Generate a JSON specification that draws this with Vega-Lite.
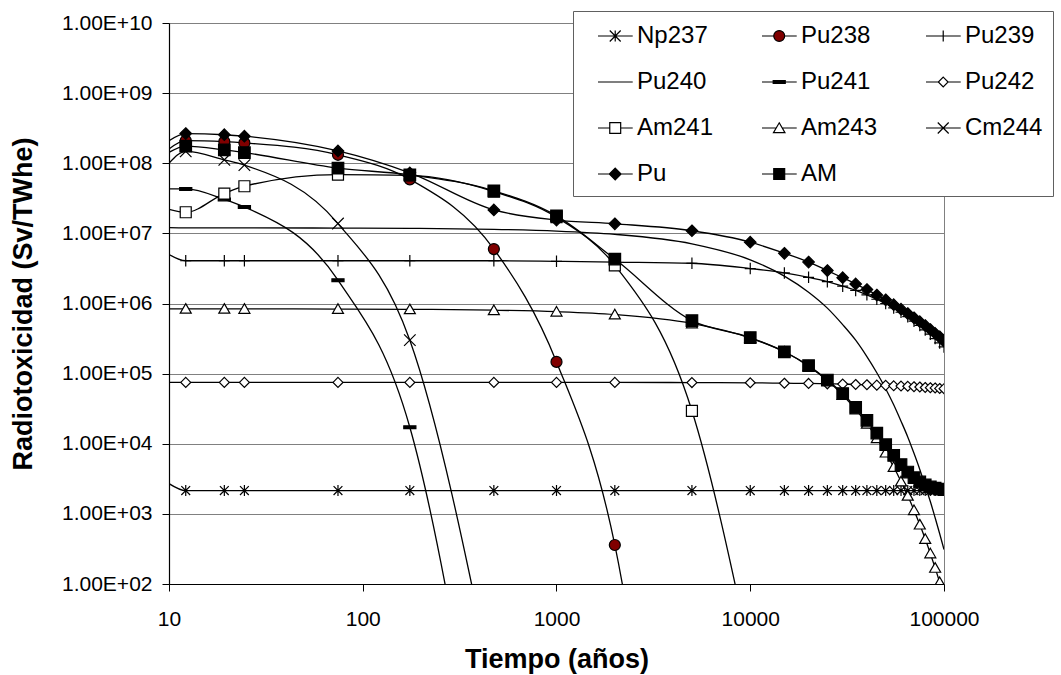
{
  "$schema": "https://vega.github.io/schema/vega-lite/v6.json",
  "width": 775,
  "height": 561,
  "autosize": {"type": "none"},
  "padding": {"left": 169, "top": 23, "right": 117, "bottom": 91},
  "background": "white",
  "config": {"view": {"stroke": "#808080", "strokeWidth": 1}, "font": "Liberation Sans"},
  "data": {"values": [
    {"serie":"Np237","t":10,"v":2700},{"serie":"Np237","t":12.2,"v":2150},{"serie":"Np237","t":19.3,"v":2150},{"serie":"Np237","t":24.5,"v":2150},{"serie":"Np237","t":74.5,"v":2150},{"serie":"Np237","t":175,"v":2150},{"serie":"Np237","t":475,"v":2150},{"serie":"Np237","t":1000,"v":2150},{"serie":"Np237","t":2000,"v":2150},{"serie":"Np237","t":5000,"v":2150},{"serie":"Np237","t":10000,"v":2150},{"serie":"Np237","t":15000,"v":2150},{"serie":"Np237","t":20000,"v":2150},{"serie":"Np237","t":25000,"v":2150},{"serie":"Np237","t":30000,"v":2150},{"serie":"Np237","t":35000,"v":2150},{"serie":"Np237","t":40000,"v":2150},{"serie":"Np237","t":45000,"v":2150},{"serie":"Np237","t":50000,"v":2150},{"serie":"Np237","t":55000,"v":2150},{"serie":"Np237","t":60000,"v":2150},{"serie":"Np237","t":65000,"v":2150},{"serie":"Np237","t":70000,"v":2150},{"serie":"Np237","t":75000,"v":2150},{"serie":"Np237","t":80000,"v":2150},{"serie":"Np237","t":85000,"v":2150},{"serie":"Np237","t":90000,"v":2150},{"serie":"Np237","t":95000,"v":2150},{"serie":"Np237","t":100000,"v":2150},

    {"serie":"Pu238","t":10,"v":1.6e8},{"serie":"Pu238","t":12.2,"v":2.1e8},{"serie":"Pu238","t":19.3,"v":2.03e8},{"serie":"Pu238","t":24.5,"v":1.95e8},{"serie":"Pu238","t":74.5,"v":1.32e8},{"serie":"Pu238","t":175,"v":5.9e7},{"serie":"Pu238","t":475,"v":5.97e6},{"serie":"Pu238","t":1000,"v":1.47e5},{"serie":"Pu238","t":2000,"v":360},{"serie":"Pu238","t":5000,"v":5e-6},

    {"serie":"Pu239","t":10,"v":5.0e6},{"serie":"Pu239","t":12.2,"v":4.07e6},{"serie":"Pu239","t":19.3,"v":4.07e6},{"serie":"Pu239","t":24.5,"v":4.07e6},{"serie":"Pu239","t":74.5,"v":4.07e6},{"serie":"Pu239","t":175,"v":4.07e6},{"serie":"Pu239","t":475,"v":4.07e6},{"serie":"Pu239","t":1000,"v":4.0e6},{"serie":"Pu239","t":2000,"v":3.9e6},{"serie":"Pu239","t":5000,"v":3.75e6},{"serie":"Pu239","t":10000,"v":3.15e6},{"serie":"Pu239","t":15000,"v":2.73e6},{"serie":"Pu239","t":20000,"v":2.36e6},{"serie":"Pu239","t":25000,"v":2.05e6},{"serie":"Pu239","t":30000,"v":1.77e6},{"serie":"Pu239","t":35000,"v":1.54e6},{"serie":"Pu239","t":40000,"v":1.33e6},{"serie":"Pu239","t":45000,"v":1.15e6},{"serie":"Pu239","t":50000,"v":1.0e6},{"serie":"Pu239","t":55000,"v":8.65e5},{"serie":"Pu239","t":60000,"v":7.5e5},{"serie":"Pu239","t":65000,"v":6.5e5},{"serie":"Pu239","t":70000,"v":5.6e5},{"serie":"Pu239","t":75000,"v":4.87e5},{"serie":"Pu239","t":80000,"v":4.2e5},{"serie":"Pu239","t":85000,"v":3.65e5},{"serie":"Pu239","t":90000,"v":3.16e5},{"serie":"Pu239","t":95000,"v":2.74e5},{"serie":"Pu239","t":100000,"v":2.4e5},

    {"serie":"Pu240","t":10,"v":1.21e7},{"serie":"Pu240","t":12.2,"v":1.2e7},{"serie":"Pu240","t":19.3,"v":1.2e7},{"serie":"Pu240","t":24.5,"v":1.2e7},{"serie":"Pu240","t":74.5,"v":1.19e7},{"serie":"Pu240","t":175,"v":1.18e7},{"serie":"Pu240","t":475,"v":1.14e7},{"serie":"Pu240","t":1000,"v":1.08e7},{"serie":"Pu240","t":2000,"v":9.7e6},{"serie":"Pu240","t":5000,"v":7.1e6},{"serie":"Pu240","t":10000,"v":4.2e6},{"serie":"Pu240","t":15000,"v":2.46e6},{"serie":"Pu240","t":20000,"v":1.45e6},{"serie":"Pu240","t":25000,"v":8.6e5},{"serie":"Pu240","t":30000,"v":5.0e5},{"serie":"Pu240","t":35000,"v":3.0e5},{"serie":"Pu240","t":40000,"v":1.75e5},{"serie":"Pu240","t":45000,"v":1.03e5},{"serie":"Pu240","t":50000,"v":6.1e4},{"serie":"Pu240","t":55000,"v":3.6e4},{"serie":"Pu240","t":60000,"v":2.1e4},{"serie":"Pu240","t":65000,"v":1.25e4},{"serie":"Pu240","t":70000,"v":7300},{"serie":"Pu240","t":75000,"v":4300},{"serie":"Pu240","t":80000,"v":2500},{"serie":"Pu240","t":85000,"v":1500},{"serie":"Pu240","t":90000,"v":880},{"serie":"Pu240","t":95000,"v":520},{"serie":"Pu240","t":100000,"v":310},

    {"serie":"Pu241","t":10,"v":4.3e7},{"serie":"Pu241","t":12.2,"v":4.3e7},{"serie":"Pu241","t":19.3,"v":3.05e7},{"serie":"Pu241","t":24.5,"v":2.38e7},{"serie":"Pu241","t":74.5,"v":2.15e6},{"serie":"Pu241","t":175,"v":1.72e4},{"serie":"Pu241","t":475,"v":0.009},

    {"serie":"Pu242","t":10,"v":7.5e4},{"serie":"Pu242","t":12.2,"v":7.5e4},{"serie":"Pu242","t":19.3,"v":7.5e4},{"serie":"Pu242","t":24.5,"v":7.5e4},{"serie":"Pu242","t":74.5,"v":7.5e4},{"serie":"Pu242","t":175,"v":7.5e4},{"serie":"Pu242","t":475,"v":7.5e4},{"serie":"Pu242","t":1000,"v":7.5e4},{"serie":"Pu242","t":2000,"v":7.5e4},{"serie":"Pu242","t":5000,"v":7.45e4},{"serie":"Pu242","t":10000,"v":7.4e4},{"serie":"Pu242","t":15000,"v":7.3e4},{"serie":"Pu242","t":20000,"v":7.25e4},{"serie":"Pu242","t":25000,"v":7.15e4},{"serie":"Pu242","t":30000,"v":7.1e4},{"serie":"Pu242","t":35000,"v":7.0e4},{"serie":"Pu242","t":40000,"v":6.95e4},{"serie":"Pu242","t":45000,"v":6.85e4},{"serie":"Pu242","t":50000,"v":6.8e4},{"serie":"Pu242","t":55000,"v":6.7e4},{"serie":"Pu242","t":60000,"v":6.65e4},{"serie":"Pu242","t":65000,"v":6.6e4},{"serie":"Pu242","t":70000,"v":6.5e4},{"serie":"Pu242","t":75000,"v":6.45e4},{"serie":"Pu242","t":80000,"v":6.35e4},{"serie":"Pu242","t":85000,"v":6.3e4},{"serie":"Pu242","t":90000,"v":6.25e4},{"serie":"Pu242","t":95000,"v":6.15e4},{"serie":"Pu242","t":100000,"v":6.1e4},

    {"serie":"Am241","t":10,"v":2.2e7},{"serie":"Am241","t":12.2,"v":2.0e7},{"serie":"Am241","t":19.3,"v":3.7e7},{"serie":"Am241","t":24.5,"v":4.7e7},{"serie":"Am241","t":74.5,"v":6.9e7},{"serie":"Am241","t":175,"v":6.7e7},{"serie":"Am241","t":475,"v":3.95e7},{"serie":"Am241","t":1000,"v":1.7e7},{"serie":"Am241","t":2000,"v":3.5e6},{"serie":"Am241","t":5000,"v":2.95e4},{"serie":"Am241","t":10000,"v":10},

    {"serie":"Am243","t":10,"v":8.4e5},{"serie":"Am243","t":12.2,"v":8.4e5},{"serie":"Am243","t":19.3,"v":8.4e5},{"serie":"Am243","t":24.5,"v":8.38e5},{"serie":"Am243","t":74.5,"v":8.34e5},{"serie":"Am243","t":175,"v":8.26e5},{"serie":"Am243","t":475,"v":8.03e5},{"serie":"Am243","t":1000,"v":7.65e5},{"serie":"Am243","t":2000,"v":6.96e5},{"serie":"Am243","t":5000,"v":5.2e5},{"serie":"Am243","t":10000,"v":3.22e5},{"serie":"Am243","t":15000,"v":2.05e5},{"serie":"Am243","t":20000,"v":1.28e5},{"serie":"Am243","t":25000,"v":7.96e4},{"serie":"Am243","t":30000,"v":4.96e4},{"serie":"Am243","t":35000,"v":3.09e4},{"serie":"Am243","t":40000,"v":1.93e4},{"serie":"Am243","t":45000,"v":1.2e4},{"serie":"Am243","t":50000,"v":7480},{"serie":"Am243","t":55000,"v":4660},{"serie":"Am243","t":60000,"v":2900},{"serie":"Am243","t":65000,"v":1810},{"serie":"Am243","t":70000,"v":1130},{"serie":"Am243","t":75000,"v":703},{"serie":"Am243","t":80000,"v":438},{"serie":"Am243","t":85000,"v":273},{"serie":"Am243","t":90000,"v":170},{"serie":"Am243","t":95000,"v":106},{"serie":"Am243","t":100000,"v":66},

    {"serie":"Cm244","t":10,"v":1.0e8},{"serie":"Cm244","t":12.2,"v":1.48e8},{"serie":"Cm244","t":19.3,"v":1.12e8},{"serie":"Cm244","t":24.5,"v":9.4e7},{"serie":"Cm244","t":74.5,"v":1.38e7},{"serie":"Cm244","t":175,"v":3.0e5},{"serie":"Cm244","t":475,"v":3},

    {"serie":"Pu","t":10,"v":2.1e8},{"serie":"Pu","t":12.2,"v":2.65e8},{"serie":"Pu","t":19.3,"v":2.55e8},{"serie":"Pu","t":24.5,"v":2.43e8},{"serie":"Pu","t":74.5,"v":1.5e8},{"serie":"Pu","t":175,"v":7.3e7},{"serie":"Pu","t":475,"v":2.16e7},{"serie":"Pu","t":1000,"v":1.55e7},{"serie":"Pu","t":2000,"v":1.37e7},{"serie":"Pu","t":5000,"v":1.09e7},{"serie":"Pu","t":10000,"v":7.5e6},{"serie":"Pu","t":15000,"v":5.2e6},{"serie":"Pu","t":20000,"v":3.9e6},{"serie":"Pu","t":25000,"v":2.95e6},{"serie":"Pu","t":30000,"v":2.33e6},{"serie":"Pu","t":35000,"v":1.9e6},{"serie":"Pu","t":40000,"v":1.58e6},{"serie":"Pu","t":45000,"v":1.32e6},{"serie":"Pu","t":50000,"v":1.13e6},{"serie":"Pu","t":55000,"v":9.6e5},{"serie":"Pu","t":60000,"v":8.3e5},{"serie":"Pu","t":65000,"v":7.2e5},{"serie":"Pu","t":70000,"v":6.25e5},{"serie":"Pu","t":75000,"v":5.5e5},{"serie":"Pu","t":80000,"v":4.85e5},{"serie":"Pu","t":85000,"v":4.25e5},{"serie":"Pu","t":90000,"v":3.75e5},{"serie":"Pu","t":95000,"v":3.35e5},{"serie":"Pu","t":100000,"v":3.0e5},

    {"serie":"AM","t":10,"v":1.43e8},{"serie":"AM","t":12.2,"v":1.75e8},{"serie":"AM","t":19.3,"v":1.55e8},{"serie":"AM","t":24.5,"v":1.42e8},{"serie":"AM","t":74.5,"v":8.5e7},{"serie":"AM","t":175,"v":6.85e7},{"serie":"AM","t":475,"v":4.05e7},{"serie":"AM","t":1000,"v":1.78e7},{"serie":"AM","t":2000,"v":4.3e6},{"serie":"AM","t":5000,"v":5.7e5},{"serie":"AM","t":10000,"v":3.27e5},{"serie":"AM","t":15000,"v":2.05e5},{"serie":"AM","t":20000,"v":1.3e5},{"serie":"AM","t":25000,"v":8.1e4},{"serie":"AM","t":30000,"v":5.2e4},{"serie":"AM","t":35000,"v":3.3e4},{"serie":"AM","t":40000,"v":2.15e4},{"serie":"AM","t":45000,"v":1.42e4},{"serie":"AM","t":50000,"v":9700},{"serie":"AM","t":55000,"v":6800},{"serie":"AM","t":60000,"v":5050},{"serie":"AM","t":65000,"v":3950},{"serie":"AM","t":70000,"v":3280},{"serie":"AM","t":75000,"v":2850},{"serie":"AM","t":80000,"v":2590},{"serie":"AM","t":85000,"v":2420},{"serie":"AM","t":90000,"v":2320},{"serie":"AM","t":95000,"v":2260},{"serie":"AM","t":100000,"v":2220}
  ]},
  "encoding": {
    "x": {
      "field": "t", "type": "quantitative",
      "scale": {"type": "log", "domain": [10, 100000], "nice": false},
      "axis": {
        "values": [10, 100, 1000, 10000, 100000], "format": "d",
        "grid": false, "labelFontSize": 21, "labelColor": "black", "labelPadding": 17,
        "labelFlush": false, "labelOverlap": false,
        "tickSize": 7, "tickColor": "black", "domainColor": "black", "domainWidth": 1.2,
        "title": "Tiempo (años)", "titleFontSize": 27, "titleFontWeight": "bold", "titleColor": "black",
        "titleBaseline": "alphabetic", "titleY": 83
      }
    },
    "y": {
      "field": "v", "type": "quantitative",
      "scale": {"type": "log", "domain": [100, 10000000000], "nice": false},
      "axis": {
        "values": [100, 1000, 10000, 100000, 1000000, 10000000, 100000000, 1000000000, 10000000000],
        "labelExpr": "'1.00E+' + (round(log(datum.value)/LN10) < 10 ? '0' : '') + round(log(datum.value)/LN10)",
        "grid": true, "gridColor": "#808080", "gridWidth": 1,
        "labelFontSize": 21, "labelColor": "black", "labelPadding": 10, "labelFlush": false, "labelOverlap": false,
        "tickSize": 7, "tickColor": "black", "domainColor": "black", "domainWidth": 1.2,
        "title": "Radiotoxicidad (Sv/TWhe)", "titleFontSize": 27, "titleFontWeight": "bold", "titleColor": "black",
        "titleBaseline": "alphabetic", "titleX": -138, "titleY": 280.5
      }
    }
  },
  "layer": [
    {
      "mark": {"type": "line", "interpolate": "monotone", "clip": true, "color": "black", "strokeWidth": 1.3},
      "encoding": {"detail": {"field": "serie", "type": "nominal"}}
    },
    {
      "transform": [{"filter": "datum.t > 11 && datum.serie !== 'Pu240'"}],
      "mark": {"type": "point", "clip": true, "size": 121, "opacity": 1, "stroke": "black", "strokeWidth": 1.2},
      "encoding": {
        "shape": {
          "field": "serie", "type": "nominal",
          "scale": {
            "domain": ["Np237", "Pu238", "Pu239", "Pu240", "Pu241", "Pu242", "Am241", "Am243", "Cm244", "Pu", "AM"],
            "range": [
              "M0,-1V1M-0.8,-0.8L0.8,0.8M-0.8,0.8L0.8,-0.8",
              "circle",
              "M-1,0H1M0,-1.05V1.05",
              "M-1,0H1",
              "M-1.1,-0.25H1.1V0.25H-1.1Z",
              "M0,-0.9L0.9,0L0,0.9L-0.9,0Z",
              "M-1,-1H1V1H-1Z",
              "M0,-0.95L1,0.8H-1Z",
              "M-1.05,-1.05L1.05,1.05M-1.05,1.05L1.05,-1.05",
              "M0,-1.05L1.05,0L0,1.05L-1.05,0Z",
              "M-1.05,-1.05H1.05V1.05H-1.05Z"
            ]
          },
          "legend": null
        },
        "fill": {
          "field": "serie", "type": "nominal",
          "scale": {
            "domain": ["Np237", "Pu238", "Pu239", "Pu240", "Pu241", "Pu242", "Am241", "Am243", "Cm244", "Pu", "AM"],
            "range": ["transparent", "#800000", "transparent", "transparent", "black", "white", "white", "white", "transparent", "black", "black"]
          },
          "legend": null
        }
      }
    },
    {
      "transform": [{"filter": "datum.t < 0"}],
      "mark": {"type": "point", "clip": true, "opacity": 1, "strokeWidth": 1.2},
      "encoding": {
        "shape": {
          "field": "serie", "type": "nominal",
          "scale": {
            "domain": ["Np237", "Pu238", "Pu239", "Pu240", "Pu241", "Pu242", "Am241", "Am243", "Cm244", "Pu", "AM"],
            "range": [
              "M0,0H2.48M1.23,-0.39V0.39M0.84,-0.39L1.62,0.39M0.84,0.39L1.62,-0.39",
              "M0,0H0.84M1.62,0H2.48M0.84,0A0.39,0.39 0 1,1 1.62,0A0.39,0.39 0 1,1 0.84,0Z",
              "M0,0H2.48M1.23,-0.39V0.39",
              "M0,0H2.48",
              "M0,0H2.48M0.8,-0.1H1.66V0.1H0.8Z",
              "M0,0H0.88M1.58,0H2.48M1.23,-0.35L1.58,0L1.23,0.35L0.88,0Z",
              "M0,0H0.84M1.62,0H2.48M0.84,-0.39H1.62V0.39H0.84Z",
              "M0,0H1.01M1.45,0H2.48M1.23,-0.37L1.64,0.33H0.82Z",
              "M0,0H2.48M0.84,-0.39L1.62,0.39M0.84,0.39L1.62,-0.39",
              "M0,0H2.48M1.23,-0.42L1.65,0L1.23,0.42L0.81,0Z",
              "M0,0H2.48M0.84,-0.39H1.62V0.39H0.84Z"
            ]
          },
          "legend": {
            "orient": "none", "legendX": 404, "legendY": -12, "title": null, "columns": 3,
            "direction": "horizontal",
            "columnPadding": 33, "rowPadding": 19, "padding": 10,
            "symbolSize": 784, "labelOffset": 24, "labelFontSize": 24, "labelFont": "Liberation Sans",
            "labelColor": "black", "labelLimit": 300, "symbolStrokeColor": "black", "symbolStrokeWidth": 1.2,
            "symbolOpacity": 1,
            "strokeColor": "#606060", "fillColor": "white"
          }
        },
        "fill": {
          "field": "serie", "type": "nominal",
          "scale": {
            "domain": ["Np237", "Pu238", "Pu239", "Pu240", "Pu241", "Pu242", "Am241", "Am243", "Cm244", "Pu", "AM"],
            "range": ["transparent", "#800000", "transparent", "transparent", "black", "white", "white", "white", "transparent", "black", "black"]
          },
          "legend": {
            "orient": "none", "legendX": 404, "legendY": -12, "title": null, "columns": 3,
            "direction": "horizontal",
            "columnPadding": 33, "rowPadding": 19, "padding": 10,
            "symbolSize": 784, "labelOffset": 24, "labelFontSize": 24, "labelFont": "Liberation Sans",
            "labelColor": "black", "labelLimit": 300, "symbolStrokeColor": "black", "symbolStrokeWidth": 1.2,
            "symbolOpacity": 1,
            "strokeColor": "#606060", "fillColor": "white"
          }
        },
        "stroke": {
          "field": "serie", "type": "nominal",
          "scale": {
            "domain": ["Np237", "Pu238", "Pu239", "Pu240", "Pu241", "Pu242", "Am241", "Am243", "Cm244", "Pu", "AM"],
            "range": ["black", "black", "black", "black", "black", "black", "black", "black", "black", "black", "black"]
          },
          "legend": {
            "orient": "none", "legendX": 404, "legendY": -12, "title": null, "columns": 3,
            "direction": "horizontal",
            "columnPadding": 33, "rowPadding": 19, "padding": 10,
            "symbolSize": 784, "labelOffset": 24, "labelFontSize": 24, "labelFont": "Liberation Sans",
            "labelColor": "black", "labelLimit": 300, "symbolStrokeColor": "black", "symbolStrokeWidth": 1.2,
            "symbolOpacity": 1,
            "strokeColor": "#606060", "fillColor": "white"
          }
        }
      }
    }
  ],
  "resolve": {"scale": {"shape": "independent", "fill": "independent", "stroke": "independent"}}
}
